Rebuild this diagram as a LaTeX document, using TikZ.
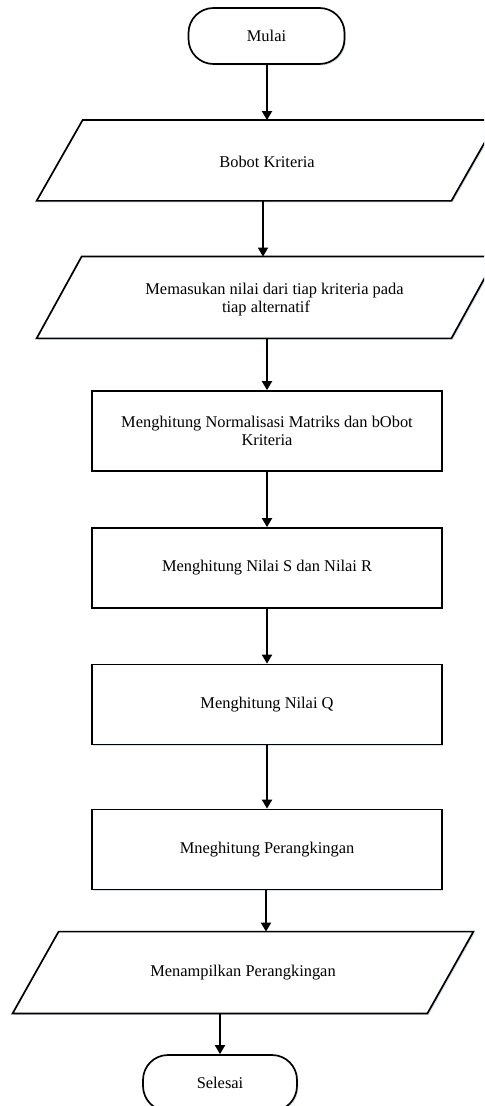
\documentclass[tikz,border=0pt]{standalone}
\usepackage{fontspec}
\setmainfont{Liberation Serif}
\usetikzlibrary{arrows.meta,shadows}

\definecolor{shadowblue}{RGB}{196,210,228}

\tikzset{
  txt/.style={font=\fontsize{8.2}{8.8}\selectfont, align=center, inner sep=0pt},
  soft/.style={drop shadow={shadow xshift=0.7pt, shadow yshift=-0.7pt, fill=shadowblue, opacity=0.7}},
  terminal/.style={txt, draw, line width=0.85pt, fill=white, soft, rounded corners=12.5pt,
                   minimum width=78pt, minimum height=28pt},
  process/.style={txt, draw, line width=0.85pt, fill=white, soft,
                  minimum width=175pt, minimum height=40pt},
  ioframe/.style={inner sep=0pt, minimum width=207pt, minimum height=40pt},
  ioline/.style={draw, line width=0.85pt, fill=white, soft},
  flow/.style={line width=0.9pt, -{Triangle[length=4.5pt,width=5pt]}}
}

% draw a slanted input/output box around a frame node
\newcommand{\ioshape}[2]{%
  \path[ioline] ([xshift=-#2]#1.south west) -- ([xshift=-#2]#1.south east)
    -- ([xshift=#2]#1.north east) -- ([xshift=#2]#1.north west) -- cycle;}

\begin{document}
\begin{tikzpicture}[x=0.5pt, y=-0.5pt]
  \useasboundingbox (0,0) rectangle (484,1106);
  \clip (0,0) rectangle (484,1106);

  % start
  \node[terminal] (mulai) at (266.5,36) {Mulai};

  % criteria weights
  \node[ioframe] (bobot) at (267,160.5) {};
  \ioshape{bobot}{11.5pt}
  \node[txt] (bobotT) at (267,161.5) {Bobot Kriteria};

  % input values
  \node[ioframe, minimum height=40.5pt] (input) at (266.5,297.5) {};
  \ioshape{input}{11.25pt}
  \node[txt] (inputT) at (274.5,299.5) {Memasukan nilai dari tiap kriteria pada\\tiap alternatif\hspace*{8.5pt}};

  % processing steps
  \node[process] (norm) at (267,431) {Menghitung Normalisasi Matriks dan bObot\\Kriteria};
  \node[process] (sr) at (267,568) {Menghitung Nilai S dan Nilai R};
  \node[process] (q) at (267,704.5) {Menghitung Nilai Q};
  \node[process] (rank) at (267,849.5) {Mneghitung Perangkingan};

  % output
  \node[ioframe, minimum height=40.5pt] (out) at (243,972.5) {};
  \ioshape{out}{11.5pt}
  \node[txt] (outT) at (243,973) {Menampilkan Perangkingan};

  % end
  \node[terminal, minimum width=77pt] (selesai) at (220,1083) {Selesai};

  % connectors
  \draw[flow] (mulai.south -| bobot.north) -- (bobot.north);
  \draw[flow] ([xshift=-2pt]bobot.south) -- ([xshift=-2pt]bobot.south |- input.north);
  \draw[flow] (input.south -| norm.north) -- (norm.north);
  \draw[flow] (norm.south) -- (sr.north);
  \draw[flow] (sr.south) -- (q.north);
  \draw[flow] (q.south) -- (rank.north);
  \draw[flow] ([xshift=-0.5pt]rank.south) -- ([xshift=-0.5pt]rank.south |- out.north);
  \draw[flow] (out.south -| selesai.north) -- (selesai.north);
\end{tikzpicture}
\end{document}
